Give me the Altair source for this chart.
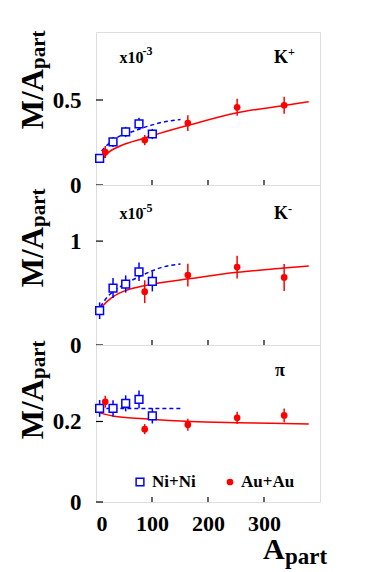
import altair as alt
import pandas as pd

# ---------------- data ----------------
ni_apart = [6.5, 30.4, 53, 76.8, 100.6]
au_apart = [16.5, 87, 164, 252, 336]
au_apart_km = [87, 164, 252, 336]

kp_ni = [0.157, 0.253, 0.312, 0.36, 0.30]
kp_ni_err = [0.025, 0.03, 0.03, 0.035, 0.03]
kp_au = [0.194, 0.264, 0.364, 0.457, 0.469]
kp_au_err = [0.035, 0.03, 0.047, 0.05, 0.05]

km_ni = [0.33, 0.548, 0.587, 0.705, 0.612]
km_ni_err = [0.08, 0.096, 0.083, 0.088, 0.096]
km_au = [0.513, 0.673, 0.75, 0.65]
km_au_err = [0.11, 0.11, 0.11, 0.13]

pi_ni = [0.2325, 0.2325, 0.245, 0.255, 0.214]
pi_ni_err = [0.021, 0.02, 0.02, 0.022, 0.019]
pi_au = [0.249, 0.181, 0.192, 0.209, 0.215]
pi_au_err = [0.015, 0.0125, 0.015, 0.015, 0.017]

# fit curves
kp_red_x = [8, 20, 44, 86, 115, 169, 252, 336, 380]
kp_red_y = [0.135, 0.185, 0.231, 0.275, 0.305, 0.355, 0.425, 0.467, 0.49]
kp_blue_x = [10, 20, 38, 62, 92, 120, 151]
kp_blue_y = [0.20, 0.235, 0.28, 0.31, 0.345, 0.37, 0.385]

km_red_x = [8, 20, 32, 56, 86, 100, 169, 252, 336, 380]
km_red_y = [0.35, 0.42, 0.47, 0.53, 0.57, 0.585, 0.64, 0.70, 0.74, 0.76]
km_blue_x = [8, 20, 32, 56, 86, 116, 151]
km_blue_y = [0.37, 0.46, 0.52, 0.60, 0.68, 0.745, 0.78]

pi_red_x = [5, 32, 86, 169, 252, 336, 380]
pi_red_y = [0.222, 0.213, 0.207, 0.200, 0.197, 0.195, 0.194]
pi_blue_x = [6, 152]
pi_blue_y = [0.232, 0.232]

x_ticks = [0, 100, 200, 300]

FONT = "Liberation Serif"
RED = "#ff0000"
BLUE = "#0000ff"
W = 224

xscale = alt.Scale(domain=[0, 400], nice=False, zero=False)


def pts(xs, ys, es):
    return pd.DataFrame({"x": xs, "y": ys,
                         "lo": [a - b for a, b in zip(ys, es)],
                         "hi": [a + b for a, b in zip(ys, es)]})


def panel(ni_y, ni_e, au_x, au_y, au_e, rx, ry, bx, by, ydom, yticks, h,
          texts, title_y, bottom):
    ys = alt.Scale(domain=ydom, nice=False, zero=False)
    if bottom:
        xaxis = alt.Axis(values=x_ticks, ticks=False, domain=False, grid=False,
                         format="d",
                         labelFont=FONT, labelFontWeight="bold", labelFontSize=22,
                         labelColor="black", labelPadding=11, title=None)
    else:
        xaxis = None
    X = alt.X("x:Q", scale=xscale, axis=xaxis)
    Y = alt.Y("y:Q", scale=ys, axis=alt.Axis(values=yticks, ticks=False, domain=False,
                                             grid=False, format="~g",
                                             labelFont=FONT,
                                             labelFontWeight="bold", labelFontSize=23,
                                             labelColor="black", labelPadding=15,
                                             title=None))
    ni = pts(ni_apart, ni_y, ni_e)
    au = pts(au_x, au_y, au_e)
    red = pd.DataFrame({"x": rx, "y": ry})
    blue = pd.DataFrame({"x": bx, "y": by})

    layers = []
    layers.append(alt.Chart(red).mark_line(color=RED, strokeWidth=1.5,
                                           interpolate="monotone").encode(x=X, y=Y))
    layers.append(alt.Chart(blue).mark_line(color=BLUE, strokeWidth=1.5,
                                            strokeDash=[4, 3],
                                            interpolate="monotone").encode(x=X, y=Y))
    layers.append(alt.Chart(ni).mark_rule(color=BLUE, strokeWidth=1.5).encode(
        x=X, y=alt.Y("lo:Q", scale=ys), y2="hi:Q"))
    layers.append(alt.Chart(ni).mark_point(shape="square", size=60, filled=False,
                                           fill="white", fillOpacity=1,
                                           stroke=BLUE, strokeWidth=1.5,
                                           opacity=1).encode(x=X, y=Y))
    layers.append(alt.Chart(au).mark_rule(color=RED, strokeWidth=1.5).encode(
        x=X, y=alt.Y("lo:Q", scale=ys), y2="hi:Q"))
    layers.append(alt.Chart(au).mark_circle(size=45, color=RED, opacity=1).encode(
        x=X, y=Y))
    # inward ticks
    layers.append(alt.Chart(pd.DataFrame({"y": yticks})).mark_rule(
        color="black", strokeWidth=1.2).encode(
        y=alt.Y("y:Q", scale=ys), x=alt.value(0), x2=alt.value(7)))
    layers.append(alt.Chart(pd.DataFrame({"x": x_ticks[1:]})).mark_rule(
        color="black", strokeWidth=1.2).encode(
        x=X, y=alt.value(h), y2=alt.value(h - 5)))
    # annotation texts
    for t, tx, ty, fs, al in texts:
        layers.append(alt.Chart(pd.DataFrame({"t": [t]})).mark_text(
            font=FONT, fontWeight="bold", fontSize=fs, color="black",
            align=al, baseline="alphabetic").encode(
            text="t:N", x=alt.value(tx), y=alt.value(ty)))
    # y title M/A_part
    for t, tx, fs, al in [("M/A", -53, 31, "right"), ("part", -51, 21, "left")]:
        layers.append(alt.Chart(pd.DataFrame({"t": [t]})).mark_text(
            font=FONT, fontWeight="bold", fontSize=fs, color="black",
            align=al, baseline="alphabetic", angle=270).encode(
            text="t:N", x=alt.value(tx), y=alt.value(title_y)))
    return alt.layer(*layers).properties(width=W, height=h)


top = panel(kp_ni, kp_ni_err, au_apart, kp_au, kp_au_err, kp_red_x, kp_red_y,
            kp_blue_x, kp_blue_y, [0, 0.9], [0, 0.5], 153,
            [("x10", 23.5, 30.5, 16, "left"), ("-3", 46.5, 23, 12, "left"),
             ("K", 178, 30.5, 18, "left"), ("+", 192, 24, 12, "left")],
            37, False)
mid = panel(km_ni, km_ni_err, au_apart_km, km_au, km_au_err, km_red_x, km_red_y,
            km_blue_x, km_blue_y, [0, 1.54], [0, 1], 160,
            [("x10", 23.5, 34, 16, "left"), ("-5", 46.5, 27, 12, "left"),
             ("K", 178, 34, 18, "left"), ("-", 192, 28, 12, "left")],
            42, False)

legend_texts = [("Ni+Ni", 56, 142, 17, "left"), ("Au+Au", 145, 142, 17, "left"),
                ("π", 179, 31, 18, "left"),
                ("A", 167, 214, 30, "left"), ("part", 189, 219, 23, "left")]
bot = panel(pi_ni, pi_ni_err, au_apart, pi_au, pi_au_err, pi_red_x, pi_red_y,
            pi_blue_x, pi_blue_y, [0, 0.39], [0, 0.2], 157,
            legend_texts, 34, True)

leg_sq = alt.Chart(pd.DataFrame({"k": ["Ni+Ni"]})).mark_point(
    shape="square", size=60, filled=False, fill="white", fillOpacity=1,
    stroke=BLUE, strokeWidth=1.5, opacity=1).encode(x=alt.value(44), y=alt.value(137))
leg_ci = alt.Chart(pd.DataFrame({"k": ["Au+Au"]})).mark_circle(
    size=45, color=RED, opacity=1).encode(x=alt.value(134), y=alt.value(137))
bot = alt.layer(bot, leg_sq, leg_ci)

chart = alt.vconcat(top, mid, bot, spacing=0, bounds="flush").properties(
    padding={"left": 9, "top": 22, "right": 5, "bottom": 0}
).configure_view(stroke="black", strokeWidth=1.5).configure(background="white")

chart.save("out.html", embed_options={"renderer": "svg", "actions": False})
